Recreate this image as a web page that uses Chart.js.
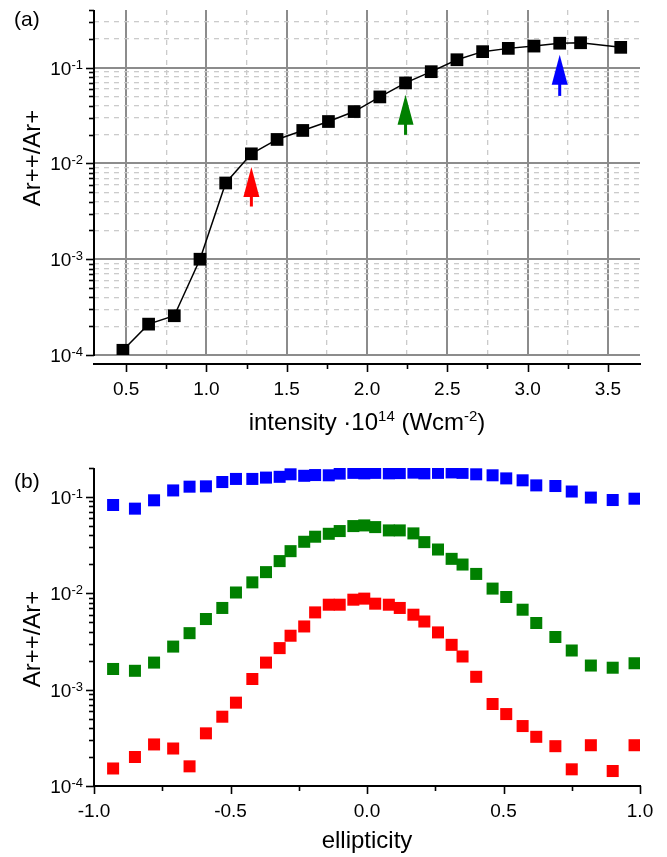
<!DOCTYPE html>
<html>
<head>
<meta charset="utf-8">
<script src="https://cdn.jsdelivr.net/npm/chart.js@4.4.0/dist/chart.umd.min.js"></script>
<style>
  body { margin: 0; background: #fff; }
  #wrap { position: relative; width: 667px; height: 857px; }
  canvas { position: absolute; left: 0; }
</style>
</head>
<body>
<div id="wrap">
  <canvas id="intensityChart" width="667" height="440" style="top:0"></canvas>
  <canvas id="ellipChart" width="667" height="417" style="top:440px"></canvas>
</div>
<script>
// --- (a) Ar++/Ar+ ratio against laser intensity (units of 1e14 W/cm2) ---
const intensity = [0.48, 0.64, 0.80, 0.96, 1.12, 1.28, 1.44, 1.60, 1.76, 1.92,
                   2.08, 2.24, 2.40, 2.56, 2.72, 2.88, 3.04, 3.20, 3.33, 3.58];
const ratioVsIntensity = [1.12e-4, 2.1e-4, 2.57e-4, 1.0e-3, 6.25e-3, 1.26e-2, 1.78e-2, 2.21e-2, 2.74e-2, 3.48e-2,
                          4.95e-2, 6.93e-2, 9.08e-2, 0.121, 0.147, 0.159, 0.168, 0.180, 0.182, 0.163];
const intensityTicks = [0.5, 1.0, 1.5, 2.0, 2.5, 3.0, 3.5];
const intensityMinorTicks = [0.75, 1.25, 1.75, 2.25, 2.75, 3.25];

// arrows: the three intensities scanned in (b), tip and tail in ratio units
const arrowIntensity = [1.28, 2.24, 3.20];
const arrowTip = [9.2e-3, 0.052, 0.136];
const arrowTail = [3.55e-3, 0.0199, 0.0507];

// --- (b) Ar++/Ar+ ratio against ellipticity, one series per intensity ---
const ellipticity = [-0.93, -0.85, -0.78, -0.71, -0.65, -0.59, -0.53, -0.48, -0.42, -0.37,
                     -0.32, -0.28, -0.23, -0.19, -0.14, -0.10, -0.05, -0.01, 0.03, 0.08,
                     0.12, 0.17, 0.21, 0.26, 0.31, 0.35, 0.40, 0.46, 0.51, 0.57,
                     0.62, 0.69, 0.75, 0.82, 0.90, 0.98];
const ratioHigh = [0.0826, 0.0757, 0.0924, 0.117, 0.128, 0.129, 0.143, 0.154, 0.154, 0.159,
                   0.162, 0.172, 0.166, 0.169, 0.168, 0.175, 0.178, 0.176, 0.178, 0.176,
                   0.177, 0.179, 0.176, 0.178, 0.180, 0.178, 0.172, 0.168, 0.156, 0.149,
                   0.132, 0.130, 0.114, 0.0986, 0.093, 0.096];
const ratioMid = [1.64e-3, 1.57e-3, 1.91e-3, 2.8e-3, 3.86e-3, 5.41e-3, 7.05e-3, 1.02e-2, 1.30e-2, 1.66e-2,
                  2.16e-2, 2.74e-2, 3.43e-2, 3.87e-2, 4.15e-2, 4.43e-2, 4.99e-2, 5.07e-2, 4.87e-2, 4.5e-2,
                  4.5e-2, 4.19e-2, 3.4e-2, 2.85e-2, 2.28e-2, 1.99e-2, 1.59e-2, 1.12e-2, 9.16e-3, 6.76e-3,
                  4.92e-3, 3.52e-3, 2.55e-3, 1.78e-3, 1.69e-3, 1.88e-3];
const ratioLow = [1.52e-4, 2.0e-4, 2.7e-4, 2.45e-4, 1.6e-4, 3.52e-4, 5.24e-4, 7.33e-4, 1.29e-3, 1.91e-3,
                  2.7e-3, 3.63e-3, 4.53e-3, 6.34e-3, 7.62e-3, 7.62e-3, 8.59e-3, 8.81e-3, 7.81e-3, 7.62e-3,
                  7.05e-3, 6.0e-3, 5.1e-3, 3.93e-3, 2.92e-3, 2.21e-3, 1.36e-3, 7.1e-4, 5.58e-4, 4.19e-4,
                  3.24e-4, 2.59e-4, 1.49e-4, 2.65e-4, 1.43e-4, 2.65e-4];
const ellipTicks = [-1.0, -0.5, 0.0, 0.5, 1.0];
const ellipMinorTicks = [-0.75, -0.25, 0.25, 0.75];

const logDecades = [-4, -3, -2, -1];

const FONT = '"Liberation Sans", Arial, sans-serif';
const RED = '#ff0000', GREEN = '#008000', BLUE = '#0000ff';

// log axis ticks: 1..9 x 10^n, decades flagged as major
function logTicks(max) {
  const ticks = [];
  logDecades.forEach(e => {
    for (let m = 1; m <= 9; m++) {
      const v = Number((m * Math.pow(10, e)).toPrecision(2));
      if (v <= max * 1.0001) ticks.push({ value: v, major: m === 1 });
    }
  });
  return ticks;
}

function linearTicks(major, minor) {
  return major.map(v => ({ value: v, major: true }))
    .concat(minor.map(v => ({ value: v, major: false })))
    .sort((a, b) => a.value - b.value);
}

function points(xs, ys) {
  return xs.map((x, i) => ({ x: x, y: ys[i] }));
}

// Origin-style axes: black lines, outward ticks, "10^n" labels, titles
const originAxes = {
  id: 'originAxes',
  afterDraw(chart, args, opts) {
    const ctx = chart.ctx;
    const area = chart.chartArea;
    const xs = chart.scales.x, ys = chart.scales.y;
    const axisY = area.bottom + opts.xAxisGap;

    ctx.save();
    ctx.strokeStyle = '#000';
    ctx.fillStyle = '#000';

    ctx.lineWidth = 2;
    ctx.beginPath();
    ctx.moveTo(area.left, area.top);
    ctx.lineTo(area.left, area.bottom + 1);
    ctx.stroke();
    ctx.beginPath();
    ctx.moveTo(area.left - 1, axisY);
    ctx.lineTo(area.right + 1, axisY);
    ctx.stroke();

    ctx.lineWidth = 1.6;
    ys.ticks.forEach(t => {
      const y = Math.round(ys.getPixelForValue(t.value)) + 0.5;
      ctx.beginPath();
      ctx.moveTo(area.left - (t.major ? 8 : 5), y);
      ctx.lineTo(area.left, y);
      ctx.stroke();
    });
    xs.ticks.forEach(t => {
      const x = Math.round(xs.getPixelForValue(t.value)) + 0.5;
      ctx.beginPath();
      ctx.moveTo(x, axisY);
      ctx.lineTo(x, axisY + (t.major ? 8 : 5));
      ctx.stroke();
    });

    // x tick labels
    ctx.font = '19px ' + FONT;
    ctx.textAlign = 'center';
    ctx.textBaseline = 'alphabetic';
    xs.ticks.filter(t => t.major).forEach(t => {
      ctx.fillText(t.value.toFixed(1), xs.getPixelForValue(t.value), axisY + 31);
    });

    // y decade labels with superscript exponent
    ctx.textAlign = 'right';
    ys.ticks.filter(t => t.major).forEach(t => {
      const y = ys.getPixelForValue(t.value);
      const exp = String(Math.round(Math.log10(t.value)));
      const right = area.left - 11;
      ctx.font = '13px ' + FONT;
      const ew = ctx.measureText(exp).width;
      ctx.fillText(exp, right, y + 1);
      ctx.font = '19px ' + FONT;
      ctx.fillText('10', right - ew, y + 7);
    });

    // x axis title, pieces flagged as superscript are raised and smaller
    ctx.textAlign = 'left';
    const pieces = opts.xTitle.map(p => {
      ctx.font = (p.sup ? '15px ' : '24px ') + FONT;
      return { text: p.text, sup: p.sup, w: ctx.measureText(p.text).width };
    });
    const total = pieces.reduce((s, p) => s + p.w, 0);
    let x = (area.left + area.right) / 2 - total / 2;
    pieces.forEach(p => {
      ctx.font = (p.sup ? '15px ' : '24px ') + FONT;
      ctx.fillText(p.text, x, axisY + opts.xTitleOffset - (p.sup ? 9 : 0));
      x += p.w;
    });

    // y axis title
    ctx.save();
    ctx.translate(opts.yTitleX, opts.yTitleY);
    ctx.rotate(-Math.PI / 2);
    ctx.textAlign = 'center';
    ctx.font = '24px ' + FONT;
    ctx.fillText('Ar++/Ar+', 0, 0);
    ctx.restore();

    // panel letter
    ctx.textAlign = 'left';
    ctx.font = '21px ' + FONT;
    ctx.fillText(opts.panel, 14, opts.panelY);

    ctx.restore();
  }
};

// filled arrows pointing at the selected intensities
const intensityArrows = {
  id: 'intensityArrows',
  afterDatasetsDraw(chart) {
    const ctx = chart.ctx;
    const xs = chart.scales.x, ys = chart.scales.y;
    const colors = [RED, GREEN, BLUE];
    ctx.save();
    arrowIntensity.forEach((xv, i) => {
      const x = xs.getPixelForValue(xv);
      const yTip = ys.getPixelForValue(arrowTip[i]);
      const yTail = ys.getPixelForValue(arrowTail[i]);
      ctx.fillStyle = colors[i];
      ctx.fillRect(x - 1.5, yTip + 20, 3, yTail - yTip - 20);
      ctx.beginPath();
      ctx.moveTo(x, yTip);
      ctx.lineTo(x + 8, yTip + 30);
      ctx.lineTo(x - 8, yTip + 30);
      ctx.closePath();
      ctx.fill();
    });
    ctx.restore();
  }
};

// shared scale settings: library draws only the grid, axes come from originAxes
function scaleBase(extra) {
  return Object.assign({
    ticks: { display: false },
    title: { display: false },
    border: { display: false },
    grid: { display: false, drawTicks: false }
  }, extra);
}

const gridColor = ctx => ctx.tick && ctx.tick.major ? '#8c8c8c' : '#cbcbcb';
const gridWidth = ctx => ctx.tick && ctx.tick.major ? 2 : 1.3;
const gridDash = ctx => ctx.tick && ctx.tick.major ? [] : [5, 5];

new Chart(document.getElementById('intensityChart'), {
  type: 'scatter',
  data: {
    datasets: [{
      data: points(intensity, ratioVsIntensity),
      showLine: true,
      borderColor: '#000',
      borderWidth: 1.5,
      backgroundColor: '#000',
      pointStyle: 'rect',
      pointRadius: 9,
      pointBorderWidth: 0
    }]
  },
  options: {
    responsive: false,
    devicePixelRatio: 1,
    animation: false,
    layout: { padding: { left: 94, right: 27, top: 10, bottom: 85 } },
    scales: {
      x: scaleBase({
        type: 'linear', min: 0.3, max: 3.7,
        afterBuildTicks: s => { s.ticks = linearTicks(intensityTicks, intensityMinorTicks); },
        grid: { display: true, drawTicks: false, color: gridColor, lineWidth: gridWidth },
        border: { display: false, dash: gridDash }
      }),
      y: scaleBase({
        type: 'logarithmic', min: 1e-4, max: 0.4,
        afterBuildTicks: s => { s.ticks = logTicks(0.4); },
        grid: {
          display: true, drawTicks: false, lineWidth: gridWidth,
          color: ctx => ctx.tick && ctx.tick.value >= 0.4 ? 'rgba(0,0,0,0)' : gridColor(ctx)
        },
        border: { display: false, dash: gridDash }
      })
    },
    plugins: {
      legend: { display: false },
      tooltip: { enabled: false },
      originAxes: {
        xAxisGap: 9, xTitleOffset: 66,
        xTitle: [
          { text: 'intensity \u00b710', sup: false },
          { text: '14', sup: true },
          { text: ' (Wcm', sup: false },
          { text: '-2', sup: true },
          { text: ')', sup: false }
        ],
        yTitleX: 40, yTitleY: 158,
        panel: '(a)', panelY: 26
      }
    }
  },
  plugins: [intensityArrows, originAxes]
});

function seriesStyle(values, color) {
  return {
    data: points(ellipticity, values),
    showLine: false,
    backgroundColor: color,
    borderColor: color,
    pointStyle: 'rect',
    pointRadius: 8.5,
    pointBorderWidth: 0
  };
}

new Chart(document.getElementById('ellipChart'), {
  type: 'scatter',
  data: {
    datasets: [
      seriesStyle(ratioHigh, BLUE),
      seriesStyle(ratioMid, GREEN),
      seriesStyle(ratioLow, RED)
    ]
  },
  options: {
    responsive: false,
    devicePixelRatio: 1,
    animation: false,
    layout: { padding: { left: 94, right: 27, top: 28, bottom: 71 } },
    scales: {
      x: scaleBase({
        type: 'linear', min: -1, max: 1,
        afterBuildTicks: s => { s.ticks = linearTicks(ellipTicks, ellipMinorTicks); }
      }),
      y: scaleBase({
        type: 'logarithmic', min: 1e-4, max: 0.2,
        afterBuildTicks: s => { s.ticks = logTicks(0.2); }
      })
    },
    plugins: {
      legend: { display: false },
      tooltip: { enabled: false },
      originAxes: {
        xAxisGap: 0, xTitleOffset: 62,
        xTitle: [{ text: 'ellipticity', sup: false }],
        yTitleX: 40, yTitleY: 199,
        panel: '(b)', panelY: 48
      }
    }
  },
  plugins: [originAxes]
});
</script>
</body>
</html>
